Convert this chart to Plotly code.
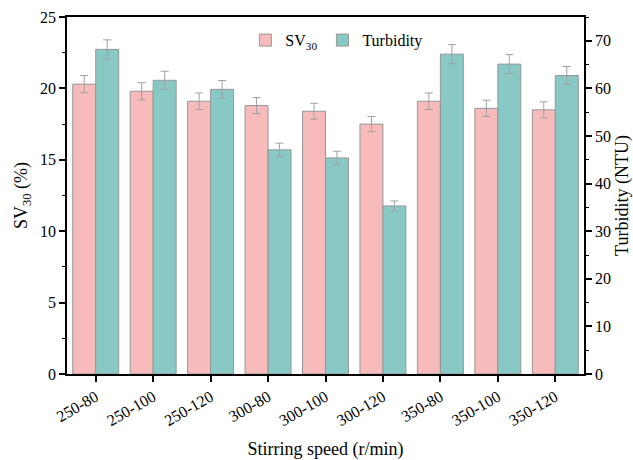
import plotly.graph_objects as go

categories = ["250-80", "250-100", "250-120", "300-80", "300-100", "300-120", "350-80", "350-100", "350-120"]
sv30 = [20.3, 19.8, 19.1, 18.8, 18.4, 17.5, 19.1, 18.6, 18.5]
sv30_err = [0.6, 0.6, 0.58, 0.56, 0.56, 0.53, 0.58, 0.57, 0.56]
turbidity = [68.2, 61.7, 59.8, 47.1, 45.4, 35.3, 67.2, 65.1, 62.7]
turbidity_err = [2.0, 1.9, 1.85, 1.4, 1.4, 1.05, 2.0, 2.0, 1.9]

FONT = "Liberation Serif"
pink = "rgb(248,187,187)"
teal = "rgb(136,201,197)"
edge = "rgb(150,150,150)"

fig = go.Figure()
fig.add_trace(go.Bar(
    x=categories, y=sv30, name="SV<sub>30</sub>", offsetgroup="a",
    marker=dict(color=pink, line=dict(color=edge, width=1)),
    error_y=dict(type="data", array=sv30_err, color="rgb(160,160,160)", thickness=1, width=4),
    yaxis="y",
))
fig.add_trace(go.Bar(
    x=categories, y=turbidity, name="Turbidity", offsetgroup="b",
    marker=dict(color=teal, line=dict(color=edge, width=1)),
    error_y=dict(type="data", array=turbidity_err, color="rgb(160,160,160)", thickness=1, width=4),
    yaxis="y2",
))

axis_common = dict(showline=True, linecolor="black", linewidth=1.5, ticks="outside",
                   ticklen=6, tickwidth=1.5, tickcolor="black", showgrid=False, zeroline=False,
                   automargin=False,
                   tickfont=dict(family=FONT, size=16, color="black"))

fig.update_layout(
    width=633, height=460,
    margin=dict(l=67, r=49, t=17, b=86),
    paper_bgcolor="white", plot_bgcolor="white",
    barmode="group", bargap=0.2, bargroupgap=0,
    font=dict(family=FONT, size=16, color="black"),
    showlegend=True,
    legend=dict(orientation="h", x=0.345, y=0.935, xanchor="left", yanchor="middle",
                font=dict(family=FONT, size=16), bgcolor="rgba(0,0,0,0)", itemwidth=30),
    xaxis=dict(**axis_common, mirror=True, range=[-0.5, 8.5], tickangle=-30,
               title=dict(text="Stirring speed (r/min)", font=dict(family=FONT, size=18), standoff=18)),
    yaxis=dict(**axis_common, range=[0, 25], dtick=5,
               minor=dict(ticks="outside", dtick=2.5, ticklen=3, tickcolor="black", tickwidth=1),
               title=dict(text="SV<sub>30</sub> (%)", font=dict(family=FONT, size=18), standoff=8)),
    yaxis2=dict(**axis_common, overlaying="y", side="right", range=[0, 75], dtick=10,
                minor=dict(ticks="outside", dtick=5, ticklen=3, tickcolor="black", tickwidth=1),
                title=dict(text="Turbidity (NTU)", font=dict(family=FONT, size=18), standoff=8)),
)

fig.write_html("out.html")
